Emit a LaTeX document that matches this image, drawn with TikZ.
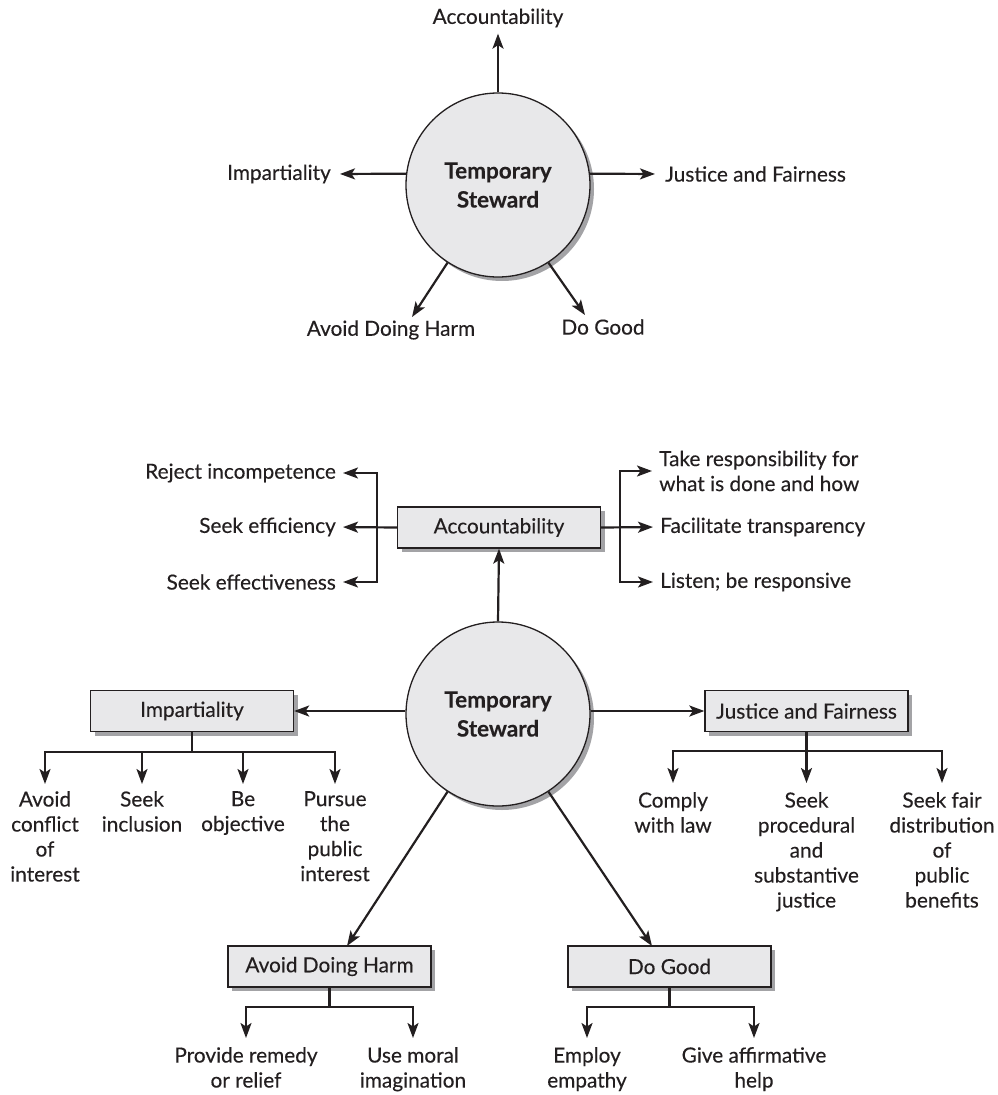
\documentclass[tikz,border=0pt]{standalone}
\usepackage{fontspec}
\setmainfont{Lato}[FakeBold=0.25]
\usetikzlibrary{arrows.meta,shadows}
\definecolor{ink}{HTML}{231F20}
\definecolor{boxfill}{HTML}{E8E8EA}
\definecolor{shade}{HTML}{A3A3A6}
\begin{document}
\begin{tikzpicture}[x=1pt,y=-1pt,
  every node/.style={font=\fontsize{20.8}{25}\selectfont, text=ink},
  lbl/.style={inner sep=0pt, align=center},
  shd/.style={drop shadow={shadow xshift=4pt, shadow yshift=-4pt, fill=shade, opacity=1}},
  bx/.style={draw=ink, line width=1.3pt, fill=boxfill, minimum width=203pt,
    minimum height=41pt, inner sep=0pt, shd},
  hub/.style={circle, draw=ink, line width=1.3pt, fill=boxfill, minimum size=184pt,
    inner sep=0pt, align=center, font=\fontsize{22.5}{29}\selectfont\bfseries, shd},
  ln/.style={draw=ink, line width=2.2pt},
  tip/.tip={Stealth[length=15pt,width=11pt,inset=3.5pt]},
  arr/.style={ln, -tip},
  dbl/.style={ln, tip-tip},
]
\useasboundingbox (0,0) rectangle (998,1095);

% ---------- top figure ----------
\node[hub] (c1) at (498,185) {Temporary\\Steward};
\node[lbl] (t1a) at (498,18) {Accountability};
\node[lbl, anchor=east] (t1i) at (331,174) {Impartiality};
\node[lbl, anchor=west] (t1j) at (665,174) {Justice and Fairness};
\node[lbl] (t1h) at (391,330) {Avoid Doing Harm};
\node[lbl] (t1g) at (603,327) {Do Good};
\coordinate (h1) at (412,317);
\coordinate (g1) at (585,315);

\draw[arr, shorten >=6pt] (c1.north) -- (t1a.south);
\draw[arr, shorten >=9pt] (c1.173) -- (t1i.east);
\draw[arr, shorten >=10pt] (c1.7) -- (t1j.west);
\draw[arr] (c1.237) -- (h1);
\draw[arr] (c1.303) -- (g1);

% ---------- bottom figure ----------
\node[hub] (c2) at (498,714) {Temporary\\Steward};
\node[bx] (acc) at (499,527.5) {Accountability};
\node[bx] (imp) at (192,711) {Impartiality};
\node[bx] (jus) at (806.5,711) {Justice and Fairness};
\node[bx] (harm) at (329.5,966.5) {Avoid Doing Harm};
\node[bx] (good) at (669.5,966.5) {Do Good};
\coordinate (h2) at (347,946);
\coordinate (g2) at (652,946);

\draw[arr] (c2.north) -- (acc.south);
\draw[arr] (c2.west |- imp.east) -- (imp.east);
\draw[arr] (c2.east |- jus.west) -- (jus.west);
\draw[arr] (c2.237) -- (h2);
\draw[arr] (c2.303) -- (g2);

% accountability, left
\node[lbl, anchor=east] (rej) at (336,473) {Reject incompetence};
\node[lbl, anchor=east] (eff) at (336,527) {Seek efficiency};
\node[lbl, anchor=east] (efv) at (336,582) {Seek effectiveness};
\coordinate (bl) at (377,527);
\draw[dbl, shorten <=7pt, shorten >=7pt] (rej.east) -- (bl |- rej.east) -- (bl |- efv.east) -- (efv.east);
\draw[arr, shorten >=7pt] (acc.west) -- (eff.east);

% accountability, right
\node[lbl, anchor=west, align=left] (take) at (659,471) {Take responsibility for\\what is done and how};
\node[lbl, anchor=west] (fac) at (660,527) {Facilitate transparency};
\node[lbl, anchor=west] (lis) at (660,582) {Listen; be responsive};
\coordinate (br) at (620,527);
\draw[dbl, shorten <=7pt, shorten >=7pt] (take.west) -- (br |- take.west) -- (br |- lis.west) -- (lis.west);
\draw[arr, shorten >=7pt] (acc.east) -- (fac.west);

% impartiality children
\node[lbl, anchor=north] (i1) at (45,791) {Avoid\\conflict\\of\\interest};
\node[lbl, anchor=north] (i2) at (142,791) {Seek\\inclusion};
\node[lbl, anchor=north] (i3) at (243,791) {Be\\objective};
\node[lbl, anchor=north] (i4) at (335,791) {Pursue\\the\\public\\interest};
\coordinate (ib) at (192,752);
\draw[ln] (imp.south) -- (ib);
\draw[dbl, shorten <=7pt, shorten >=7pt] (i1.north) -- (i1.north |- ib) -- (i4.north |- ib) -- (i4.north);
\draw[arr, shorten >=7pt] (i2.north |- ib) -- (i2.north);
\draw[arr, shorten >=7pt] (i3.north |- ib) -- (i3.north);

% justice children
\node[lbl, anchor=north] (j1) at (673,792) {Comply\\with law};
\node[lbl, anchor=north] (j2) at (806.5,792) {Seek\\procedural\\and\\substantive\\justice};
\node[lbl, anchor=north] (j3) at (942,792) {Seek fair\\distribution\\of\\public\\benefits};
\coordinate (jb) at (806.5,751);
\draw[dbl, shorten <=9pt, shorten >=9pt] (j1.north) -- (j1.north |- jb) -- (j3.north |- jb) -- (j3.north);
\draw[arr, shorten >=9pt] (jus.south) -- (j2.north);

% avoid doing harm children
\node[lbl, anchor=north] (a1) at (246,1047) {Provide remedy\\or relief};
\node[lbl, anchor=north] (a2) at (413,1047) {Use moral\\imagination};
\coordinate (ab) at (329.5,1007);
\draw[ln] (harm.south) -- (ab);
\draw[dbl, shorten <=9pt, shorten >=9pt] (a1.north) -- (a1.north |- ab) -- (a2.north |- ab) -- (a2.north);

% do good children
\node[lbl, anchor=north] (d1) at (587,1047) {Employ\\empathy};
\node[lbl, anchor=north] (d2) at (754,1047) {Give affirmative\\help};
\coordinate (db) at (669.5,1007);
\draw[ln] (good.south) -- (db);
\draw[dbl, shorten <=9pt, shorten >=9pt] (d1.north) -- (d1.north |- db) -- (d2.north |- db) -- (d2.north);
\end{tikzpicture}
\end{document}
